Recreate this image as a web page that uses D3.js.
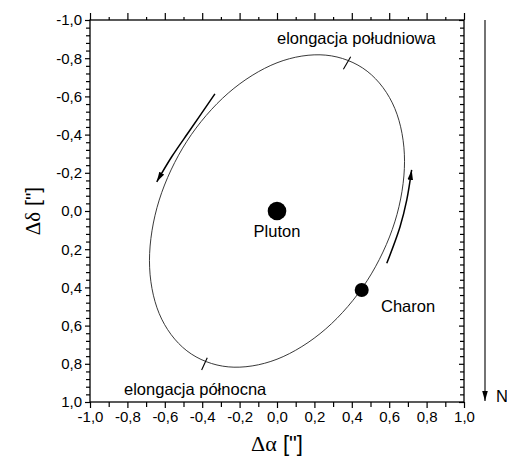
<!DOCTYPE html>
<html lang="pl">
  <head>
    <meta charset="UTF-8" />
    <title>Orbita Charona</title>
    <script src="https://d3js.org/d3.v7.min.js"></script>
    <style>
      body { margin: 0; background: #fff; }
      svg { font-family: "Liberation Sans", Arial, sans-serif; }
      .tick text { font-size: 15px; fill: #000; }
      .tick line { stroke: #000; stroke-width: 1.2; }
      .label { font-size: 16.5px; fill: #000; }
    </style>
  </head>
  <body>
    <svg id="canvas"></svg>
    <script>
      // tick values
      let xTicks = [-1.0, -0.8, -0.6, -0.4, -0.2, 0.0, 0.2, 0.4, 0.6, 0.8, 1.0];
      let yTicks = [-1.0, -0.8, -0.6, -0.4, -0.2, 0.0, 0.2, 0.4, 0.6, 0.8, 1.0];
      let tickLabels = ["-1,0", "-0,8", "-0,6", "-0,4", "-0,2", "0,0", "0,2", "0,4", "0,6", "0,8", "1,0"];

      // orbit of Charon (arcsec)
      let orbitX = [0.682, 0.630, 0.482, 0.261, 0.000, -0.261, -0.482, -0.630, -0.682, -0.630, -0.482, -0.261, 0.000, 0.261, 0.482, 0.630];
      let orbitY = [-0.260, -0.537, -0.732, -0.816, -0.776, -0.617, -0.365, -0.057, 0.260, 0.537, 0.732, 0.816, 0.776, 0.617, 0.365, 0.057];

      // direction arrows
      let arrowLeftX = [-0.332, -0.465, -0.563, -0.643];
      let arrowLeftY = [-0.613, -0.424, -0.284, -0.153];
      let arrowRightX = [0.587, 0.658, 0.694, 0.720];
      let arrowRightY = [0.274, 0.082, -0.058, -0.215];

      // elongation marks
      let elongSouthX = [0.355, 0.394];
      let elongSouthY = [-0.742, -0.808];
      let elongNorthX = [-0.403, -0.373];
      let elongNorthY = [0.832, 0.768];

      // bodies
      let bodyNames = ["Pluton", "Charon"];
      let bodyX = [0.0, 0.453];
      let bodyY = [0.0, 0.414];

      let width = 507;
      let height = 456;
      let padL = 90, padR = 464, padT = 20, padB = 402;

      let svg = d3.select("svg").attr("width", width).attr("height", height);

      let xScale = d3.scaleLinear().domain([-1, 1]).range([padL, padR]);
      let yScale = d3.scaleLinear().domain([-1, 1]).range([padT, padB]);

      let fmt = (d) => tickLabels[xTicks.findIndex((t) => Math.abs(t - d) < 1e-9)];

      let xMinor = d3.range(-0.9, 1.0, 0.2);
      let yMinor = d3.range(-1, 1.0001, 0.04).filter(
        (v) => Math.abs(v * 5 - Math.round(v * 5)) > 1e-6
      );

      let noDomain = (g) => g.select(".domain").remove();

      // bottom
      svg.append("g")
        .attr("transform", "translate(0," + padB + ")")
        .call(d3.axisBottom(xScale).tickValues(xTicks).tickFormat(fmt).tickSize(6).tickPadding(3))
        .call(noDomain);
      svg.append("g")
        .attr("transform", "translate(0," + padB + ")")
        .call(d3.axisBottom(xScale).tickValues(xMinor).tickFormat("").tickSize(5))
        .call(noDomain);

      // left
      svg.append("g")
        .attr("transform", "translate(" + padL + ",0)")
        .call(d3.axisLeft(yScale).tickValues(yTicks).tickFormat(fmt).tickSize(5).tickPadding(3))
        .call(noDomain);
      svg.append("g")
        .attr("transform", "translate(" + padL + ",0)")
        .call(d3.axisLeft(yScale).tickValues(yMinor).tickFormat("").tickSize(4))
        .call(noDomain);

      // top (ticks outward)
      svg.append("g")
        .attr("transform", "translate(0," + padT + ")")
        .call(d3.axisTop(xScale).tickValues(xTicks).tickFormat("").tickSize(7))
        .call(noDomain);
      svg.append("g")
        .attr("transform", "translate(0," + padT + ")")
        .call(d3.axisTop(xScale).tickValues(xMinor).tickFormat("").tickSize(3))
        .call(noDomain);

      // right (ticks inward)
      svg.append("g")
        .attr("transform", "translate(" + padR + ",0)")
        .call(d3.axisRight(yScale).tickValues(yTicks).tickFormat("").tickSize(-5))
        .call(noDomain);
      svg.append("g")
        .attr("transform", "translate(" + padR + ",0)")
        .call(d3.axisRight(yScale).tickValues(yMinor).tickFormat("").tickSize(-4))
        .call(noDomain);

      // frame
      svg.append("rect")
        .attr("x", padL).attr("y", padT)
        .attr("width", padR - padL).attr("height", padB - padT)
        .attr("fill", "none").attr("stroke", "#000").attr("stroke-width", 1.3);

      // arrow marker
      svg.append("defs").append("marker")
        .attr("id", "head")
        .attr("markerUnits", "userSpaceOnUse")
        .attr("viewBox", "0 -3 10 6")
        .attr("refX", 10).attr("refY", 0)
        .attr("markerWidth", 10).attr("markerHeight", 6)
        .attr("orient", "auto")
        .append("path").attr("d", "M0,-2.8L10,0L0,2.8Z").attr("fill", "#000");

      let line = d3.line().x((d) => xScale(d[0])).y((d) => yScale(d[1]));

      // orbit
      let orbit = orbitX.map((v, i) => [v, orbitY[i]]);
      svg.append("path")
        .datum(orbit)
        .attr("d", line.curve(d3.curveCardinalClosed.tension(0)))
        .attr("fill", "none").attr("stroke", "#222").attr("stroke-width", 0.9);

      // elongation marks
      [[elongSouthX, elongSouthY], [elongNorthX, elongNorthY]].forEach(([xs, ys]) => {
        svg.append("path")
          .datum(xs.map((v, i) => [v, ys[i]]))
          .attr("d", line.curve(d3.curveLinear))
          .attr("stroke", "#000").attr("stroke-width", 1.1);
      });

      // direction arrows
      [[arrowLeftX, arrowLeftY], [arrowRightX, arrowRightY]].forEach(([xs, ys]) => {
        svg.append("path")
          .datum(xs.map((v, i) => [v, ys[i]]))
          .attr("d", line.curve(d3.curveCatmullRom))
          .attr("fill", "none").attr("stroke", "#000").attr("stroke-width", 1.5)
          .attr("marker-end", "url(#head)");
      });

      // bodies
      svg.selectAll(".body")
        .data(bodyNames)
        .enter()
        .append("circle")
        .attr("class", "body")
        .attr("cx", (d, i) => xScale(bodyX[i]))
        .attr("cy", (d, i) => yScale(bodyY[i]))
        .attr("r", (d, i) => (i === 0 ? 9.3 : 7))
        .attr("fill", "#000");

      // labels
      let labels = [
        { t: "Pluton", x: 0.0, y: 0.136, a: "middle" },
        { t: "Charon", x: 0.556, y: 0.531, a: "start" },
        { t: "elongacja południowa", x: 0.0, y: -0.874, a: "start" },
        { t: "elongacja północna", x: -0.818, y: 0.963, a: "start" },
      ];
      svg.selectAll(".label")
        .data(labels)
        .enter()
        .append("text")
        .attr("class", "label")
        .attr("x", (d) => xScale(d.x))
        .attr("y", (d) => yScale(d.y))
        .attr("text-anchor", (d) => d.a)
        .text((d) => d.t);

      // north arrow
      svg.append("line")
        .attr("x1", padR + 21).attr("x2", padR + 21)
        .attr("y1", yScale(-1)).attr("y2", yScale(1) - 1)
        .attr("stroke", "#000").attr("stroke-width", 1.1)
        .attr("marker-end", "url(#head)");
      svg.append("text")
        .attr("class", "label")
        .attr("x", padR + 32).attr("y", yScale(1))
        .text("N");

      // axis titles
      let xt = svg.append("text")
        .attr("x", (padL + padR) / 2)
        .attr("y", 451)
        .attr("text-anchor", "middle");
      xt.append("tspan").attr("font-family", "'Liberation Serif', serif").attr("font-size", 22).text("Δα");
      xt.append("tspan").attr("font-size", 22).text(" [\"]");

      let yt = svg.append("text")
        .attr("transform", "translate(40," + (padT + padB) / 2 + ") rotate(-90)")
        .attr("text-anchor", "middle");
      yt.append("tspan").attr("font-family", "'Liberation Serif', serif").attr("font-size", 21).text("Δδ");
      yt.append("tspan").attr("font-size", 21).text(" [\"]");
    </script>
  </body>
</html>
